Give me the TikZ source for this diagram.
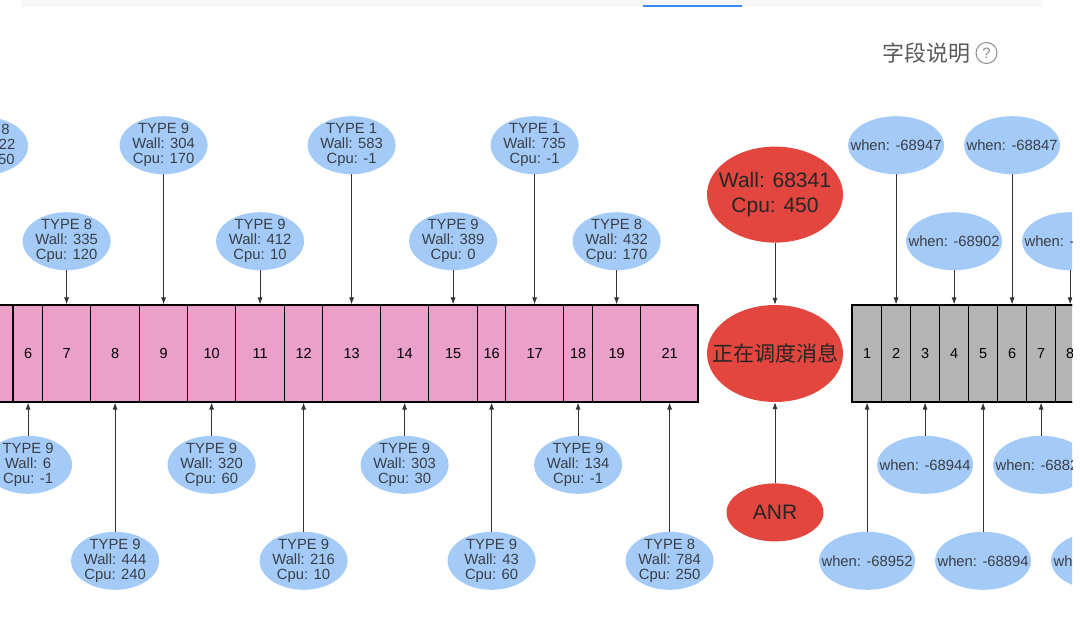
\documentclass[tikz,border=0pt]{standalone}
\usepackage{fontspec}
\setmainfont{Liberation Sans}
\newfontfamily\cjkfont{Noto Sans CJK SC}
\usepackage{xcolor}
\usepackage{tikz}
\usetikzlibrary{arrows.meta,positioning,shapes.geometric}
\definecolor{msg_pink}{RGB}{235,160,201}
\definecolor{msg_gray}{RGB}{180,180,180}
\definecolor{info_blue}{RGB}{164,203,247}
\definecolor{anr_red}{RGB}{226,70,62}
\definecolor{label_gray}{RGB}{58,62,70}
\definecolor{tab_blue}{RGB}{61,138,247}
\definecolor{band_gray}{RGB}{247,248,250}

\tikzset{
  cellp/.style={draw=black, line width=1.2pt, fill=msg_pink, minimum height=97pt,
    inner sep=0pt, font=\fontsize{14.5}{16}\selectfont},
  cellg/.style={cellp, fill=msg_gray},
  info/.style={ellipse, fill=info_blue, minimum width=88pt, minimum height=58pt,
    inner xsep=-20pt, inner ysep=-12pt, align=center, text=label_gray,
    font=\fontsize{14.8}{15}\selectfont},
  whenbox/.style={info, minimum width=96pt, inner xsep=-30pt},
  hot/.style={ellipse, fill=anr_red, inner xsep=-25pt, inner ysep=-12pt, align=center,
    text=black!85, font=\fontsize{21}{25}\selectfont},
  arr/.style={-{Latex[length=7pt,width=5pt]}, line width=0.8pt, draw=black!80},
}

\begin{document}
\begin{tikzpicture}[x=1pt, y=-1pt]
  \useasboundingbox (0,0) rectangle (1080,631);
  \begin{scope}
    \clip (0,0) rectangle (1072,631);
    % page header
    \fill[band_gray] (21,0) rectangle (1042,7);
    \fill[tab_blue] (643,5) rectangle (742,7.5);
    \node[font=\cjkfont\fontsize{22}{22}\selectfont, text=black!65] (fields) at (926,53) {字段说明};
    \node[circle, draw=black!45, line width=1pt, minimum size=21pt, inner sep=0pt,
      font=\fontsize{15}{15}\selectfont, text=black!45, right=2pt of fields] (help) {?};

    % dispatched messages (pink)
    \node[cellp, minimum width=73pt, anchor=east] (p5) at (13,353.5) {};
    \foreach \n/\l/\r in {6/13/42, 7/42/90, 8/90/139, 9/139/187, 10/187/235, 11/235/284,
        12/284/322, 13/322/380, 14/380/428, 15/428/477, 16/477/505, 17/505/563,
        18/563/592, 19/592/640, 21/640/698} {
      \pgfmathsetmacro\w{\r-\l}
      \node[cellp, minimum width=\w pt, anchor=west] (p\n) at (\l,353.5) {\n};
    }
    \draw[line width=1.6pt] (-60,305) rectangle (698,402);

    % pending messages (gray)
    \foreach \n/\l in {1/852, 2/881, 3/910, 4/939, 5/968, 6/997, 7/1026, 8/1055, 9/1084} {
      \node[cellg, minimum width=29pt, anchor=west] (g\n) at (\l,353.5) {\n};
    }
    \draw[line width=1.6pt] (852,305) rectangle (1113,402);

    % current message
    \node[hot, minimum width=136pt, minimum height=97pt] (msg) at (775,353.5) {\cjkfont 正在调度消息};
    \node[hot, minimum width=136pt, minimum height=96pt, above=62pt of msg] (wall) {Wall: 68341\\Cpu: 450};
    \node[hot, minimum width=97pt, minimum height=58pt, below=81pt of msg] (anr) {ANR};
    \draw[arr] (wall) -- (msg);
    \draw[arr] (anr) -- (msg);

    % history info, above
    \node[info] (t5) at (-16,146) {TYPE 8\\Wall: 322\\Cpu: 150};
    \node[info, above=130pt of p9] (t9) {TYPE 9\\Wall: 304\\Cpu: 170};
    \node[info, above=130pt of p13] (t13) {TYPE 1\\Wall: 583\\Cpu: -1};
    \node[info, above=130pt of p17] (t17) {TYPE 1\\Wall: 735\\Cpu: -1};
    \node[info, above=34pt of p7] (t7) {TYPE 8\\Wall: 335\\Cpu: 120};
    \node[info, above=34pt of p11] (t11) {TYPE 9\\Wall: 412\\Cpu: 10};
    \node[info, above=34pt of p15] (t15) {TYPE 9\\Wall: 389\\Cpu: 0};
    \node[info, above=34pt of p19] (t19) {TYPE 8\\Wall: 432\\Cpu: 170};
    % history info, below
    \node[info, below=33pt of p6] (t6) {TYPE 9\\Wall: 6\\Cpu: -1};
    \node[info, below=33pt of p10] (t10) {TYPE 9\\Wall: 320\\Cpu: 60};
    \node[info, below=33pt of p14] (t14) {TYPE 9\\Wall: 303\\Cpu: 30};
    \node[info, below=33pt of p18] (t18) {TYPE 9\\Wall: 134\\Cpu: -1};
    \node[info, below=129pt of p8] (t8) {TYPE 9\\Wall: 444\\Cpu: 240};
    \node[info, below=129pt of p12] (t12) {TYPE 9\\Wall: 216\\Cpu: 10};
    \node[info, below=129pt of p16] (t16) {TYPE 9\\Wall: 43\\Cpu: 60};
    \node[info, below=129pt of p21] (t21) {TYPE 8\\Wall: 784\\Cpu: 250};
    \foreach \n in {9,13,17,7,11,15,19} \draw[arr] (t\n) -- (p\n);
    \foreach \n in {6,10,14,18,8,12,16,21} \draw[arr] (t\n) -- (p\n);

    % pending when
    \node[whenbox, above=130pt of g2] (w2) {when: -68947};
    \node[whenbox, above=130pt of g6] (w6) {when: -68847};
    \node[whenbox, above=34pt of g4] (w4) {when: -68902};
    \node[whenbox, above=34pt of g8] (w8) {when: -68799};
    \node[whenbox, below=33pt of g3] (w3) {when: -68944};
    \node[whenbox, below=33pt of g7] (w7) {when: -68826};
    \node[whenbox, below=129pt of g1] (w1) {when: -68952};
    \node[whenbox, below=129pt of g5] (w5) {when: -68894};
    \node[whenbox, below=129pt of g9] (w9) {when: -68870};
    \foreach \n in {2,6,4,8,3,7,1,5,9} \draw[arr] (w\n) -- (g\n);
  \end{scope}
\end{tikzpicture}
\end{document}
